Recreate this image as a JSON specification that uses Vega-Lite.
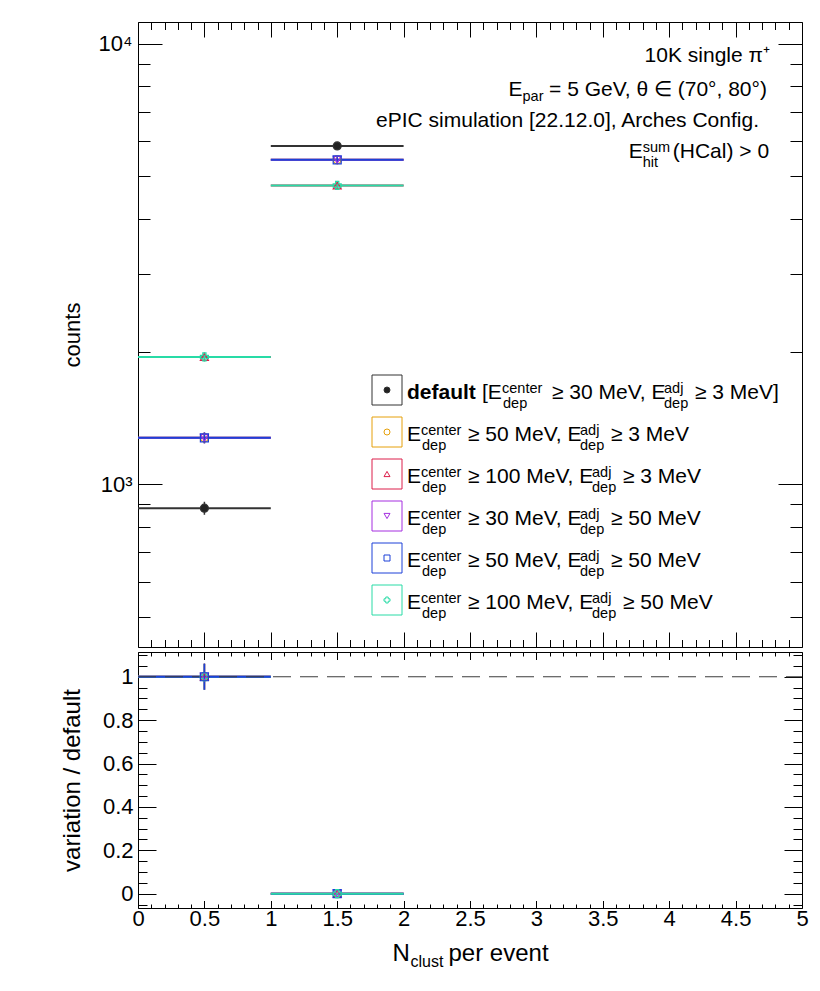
{
  "$schema": "https://vega.github.io/schema/vega-lite/v6.json",
  "background": "white",
  "padding": {"left": 59, "top": 21, "right": 5, "bottom": 5},
  "bounds": "flush",
  "spacing": 5,
  "config": {
    "font": "Liberation Sans",
    "view": {"stroke": "#000000", "strokeWidth": 1},
    "axis": {"domain": false, "grid": false, "tickColor": "#000000", "tickWidth": 1, "labelColor": "#000000", "titleColor": "#000000", "titleFontWeight": "normal", "labelFlush": false, "labelOverlap": false, "labelBound": false, "labelFontSize": 22}
  },
  "datasets": {
    "hist": [
      {"series": "default", "lo": 0, "hi": 1, "x": 0.5, "n": 882, "err": 30},
      {"series": "default", "lo": 1, "hi": 2, "x": 1.5, "n": 5862, "err": 77},
      {"series": "c50a3", "lo": 0, "hi": 1, "x": 0.5, "n": 1274, "err": 36},
      {"series": "c50a3", "lo": 1, "hi": 2, "x": 1.5, "n": 5451, "err": 74},
      {"series": "c100a3", "lo": 0, "hi": 1, "x": 0.5, "n": 1945, "err": 44},
      {"series": "c100a3", "lo": 1, "hi": 2, "x": 1.5, "n": 4766, "err": 69},
      {"series": "c30a50", "lo": 0, "hi": 1, "x": 0.5, "n": 1274, "err": 36},
      {"series": "c30a50", "lo": 1, "hi": 2, "x": 1.5, "n": 5451, "err": 74},
      {"series": "c50a50", "lo": 0, "hi": 1, "x": 0.5, "n": 1274, "err": 36},
      {"series": "c50a50", "lo": 1, "hi": 2, "x": 1.5, "n": 5451, "err": 74},
      {"series": "c100a50", "lo": 0, "hi": 1, "x": 0.5, "n": 1945, "err": 44},
      {"series": "c100a50", "lo": 1, "hi": 2, "x": 1.5, "n": 4766, "err": 69}
    ],
    "ratio": [
      {"series": "c50a3", "lo": 0, "hi": 1, "x": 0.5, "r": 1, "rerr": 0.06},
      {"series": "c100a3", "lo": 0, "hi": 1, "x": 0.5, "r": 1, "rerr": 0.06},
      {"series": "c30a50", "lo": 0, "hi": 1, "x": 0.5, "r": 1, "rerr": 0.06},
      {"series": "c100a50", "lo": 0, "hi": 1, "x": 0.5, "r": 1, "rerr": 0.06},
      {"series": "c50a50", "lo": 0, "hi": 1, "x": 0.5, "r": 1, "rerr": 0.06},
      {"series": "c50a3", "lo": 1, "hi": 2, "x": 1.5, "r": 0, "rerr": 0},
      {"series": "c100a3", "lo": 1, "hi": 2, "x": 1.5, "r": 0, "rerr": 0},
      {"series": "c30a50", "lo": 1, "hi": 2, "x": 1.5, "r": 0, "rerr": 0},
      {"series": "c50a50", "lo": 1, "hi": 2, "x": 1.5, "r": 0, "rerr": 0},
      {"series": "c100a50", "lo": 1, "hi": 2, "x": 1.5, "r": 0, "rerr": 0}
    ],
    "legend": [
      {"series": "default", "mid": "≥ 30 MeV, E", "tail": "≥ 3 MeV]"},
      {"series": "c50a3", "mid": "≥ 50 MeV, E", "tail": "≥ 3 MeV"},
      {"series": "c100a3", "mid": "≥ 100 MeV, E", "tail": "≥ 3 MeV"},
      {"series": "c30a50", "mid": "≥ 30 MeV, E", "tail": "≥ 50 MeV"},
      {"series": "c50a50", "mid": "≥ 50 MeV, E", "tail": "≥ 50 MeV"},
      {"series": "c100a50", "mid": "≥ 100 MeV, E", "tail": "≥ 50 MeV"}
    ]
  },
  "vconcat": [
    {
      "width": 664,
      "height": 625,
      "layer": [
        {
          "data": {"name": "hist"},
          "layer": [
            {
              "mark": {"type": "rule", "strokeWidth": 2},
              "encoding": {
                "x": {"field": "lo", "type": "quantitative", "scale": {"domain": [0, 5], "nice": false, "zero": false},
                  "axis": {"orient": "bottom", "values": [0,0.1,0.2,0.3,0.4,0.5,0.6,0.7,0.8,0.9,1,1.1,1.2,1.3,1.4,1.5,1.6,1.7,1.8,1.9,2,2.1,2.2,2.3,2.4,2.5,2.6,2.7,2.8,2.9,3,3.1,3.2,3.3,3.4,3.5,3.6,3.7,3.8,3.9,4,4.1,4.2,4.3,4.4,4.5,4.6,4.7,4.8,4.9,5],
                    "tickSize": {"condition": {"test": "abs(datum.value*2 - round(datum.value*2)) < 0.000001", "value": -15}, "value": -7.5},
                    "labels": false, "title": null}},
                "x2": {"field": "hi"},
                "y": {"field": "n", "type": "quantitative", "scale": {"type": "log", "domain": [426.8, 11203], "nice": false},
                  "axis": {"orient": "left", "values": [500,600,700,800,900,1000,2000,3000,4000,5000,6000,7000,8000,9000,10000],
                    "tickSize": {"condition": {"test": "datum.value == 1000 || datum.value == 10000", "value": -24}, "value": -12},
                    "labelExpr": "datum.value == 1000 ? '10³' : (datum.value == 10000 ? '10⁴' : '')",
                    "labelFontSize": 22, "labelPadding": 30,
                    "title": "counts", "titleFontSize": 22, "titlePadding": 14}},
                "color": {"field": "series", "type": "nominal", "scale": {"domain": ["default","c50a3","c100a3","c30a50","c50a50","c100a50"], "range": ["#333333","#e6a00a","#dc1e4b","#a52fe0","#1c40d8","#28dba6"]}, "legend": null}
              }
            },
            {
              "mark": {"type": "errorbar", "thickness": 1.5},
              "encoding": {
                "x": {"field": "x", "type": "quantitative", "axis": null},
                "y": {"field": "n", "type": "quantitative", "axis": null},
                "yError": {"field": "err"},
                "color": {"field": "series", "type": "nominal", "scale": {"domain": ["default","c50a3","c100a3","c30a50","c50a50","c100a50"], "range": ["#333333","#e6a00a","#dc1e4b","#a52fe0","#1c40d8","#28dba6"]}, "legend": null}
              }
            },
            {
              "mark": {"type": "point", "size": 64, "strokeWidth": 1.2, "opacity": 1, "filled": false},
              "encoding": {
                "x": {"field": "x", "type": "quantitative",
                  "axis": {"orient": "top", "values": [0,0.1,0.2,0.3,0.4,0.5,0.6,0.7,0.8,0.9,1,1.1,1.2,1.3,1.4,1.5,1.6,1.7,1.8,1.9,2,2.1,2.2,2.3,2.4,2.5,2.6,2.7,2.8,2.9,3,3.1,3.2,3.3,3.4,3.5,3.6,3.7,3.8,3.9,4,4.1,4.2,4.3,4.4,4.5,4.6,4.7,4.8,4.9,5],
                    "tickSize": {"condition": {"test": "abs(datum.value*2 - round(datum.value*2)) < 0.000001", "value": -15}, "value": -7.5},
                    "labels": false, "title": null}},
                "y": {"field": "n", "type": "quantitative",
                  "axis": {"orient": "right", "values": [500,600,700,800,900,1000,2000,3000,4000,5000,6000,7000,8000,9000,10000],
                    "tickSize": {"condition": {"test": "datum.value == 1000 || datum.value == 10000", "value": -24}, "value": -12},
                    "labels": false, "title": null}},
                "shape": {"field": "series", "type": "nominal", "scale": {"domain": ["default","c50a3","c100a3","c30a50","c50a50","c100a50"], "range": ["circle","circle","triangle-up","triangle-down","square","cross"]}, "legend": null},
                "stroke": {"field": "series", "type": "nominal", "scale": {"domain": ["default","c50a3","c100a3","c30a50","c50a50","c100a50"], "range": ["#333333","#e6a00a","#dc1e4b","#a52fe0","#1c40d8","#28dba6"]}, "legend": null},
                "fill": {"field": "series", "type": "nominal", "scale": {"domain": ["default","c50a3","c100a3","c30a50","c50a50","c100a50"], "range": ["#222222","transparent","transparent","transparent","transparent","transparent"]}, "legend": null}
              }
            }
          ],
          "resolve": {"axis": {"x": "independent", "y": "independent"}}
        },
        {
          "data": {"name": "legend"},
          "encoding": {
            "y": {"field": "series", "type": "nominal", "scale": {"type": "point", "domain": ["default","c50a3","c100a3","c30a50","c50a50","c100a50"], "range": [368, 578], "padding": 0}, "axis": null}
          },
          "layer": [
            {
              "mark": {"type": "square", "size": 900, "filled": false, "strokeWidth": 1, "opacity": 1},
              "encoding": {
                "x": {"datum": 1.875, "type": "quantitative", "axis": null},
                "color": {"field": "series", "type": "nominal", "scale": {"domain": ["default","c50a3","c100a3","c30a50","c50a50","c100a50"], "range": ["#333333","#e6a00a","#dc1e4b","#a52fe0","#1c40d8","#28dba6"]}, "legend": null}
              }
            },
            {
              "mark": {"type": "point", "size": 36, "strokeWidth": 1, "opacity": 1, "filled": false},
              "encoding": {
                "x": {"datum": 1.875, "type": "quantitative", "axis": null},
                "shape": {"field": "series", "type": "nominal", "scale": {"domain": ["default","c50a3","c100a3","c30a50","c50a50","c100a50"], "range": ["circle","circle","triangle-up","triangle-down","square","cross"]}, "legend": null},
                "stroke": {"field": "series", "type": "nominal", "scale": {"domain": ["default","c50a3","c100a3","c30a50","c50a50","c100a50"], "range": ["#333333","#e6a00a","#dc1e4b","#a52fe0","#1c40d8","#28dba6"]}, "legend": null},
                "fill": {"field": "series", "type": "nominal", "scale": {"domain": ["default","c50a3","c100a3","c30a50","c50a50","c100a50"], "range": ["#222222","transparent","transparent","transparent","transparent","transparent"]}, "legend": null}
              }
            },
            {"transform": [{"filter": "datum.series == 'default'"}], "mark": {"type": "text", "align": "left", "baseline": "alphabetic", "fontSize": 21, "fontWeight": "bold", "dx": 0, "dy": 8.5, "text": "default", "color": "#000000"}, "encoding": {"x": {"datum": 2.0256, "type": "quantitative", "axis": null}}},
            {"transform": [{"filter": "datum.series == 'default'"}], "mark": {"type": "text", "align": "left", "baseline": "alphabetic", "fontSize": 21, "dx": 75, "dy": 8.5, "text": "[E", "color": "#000000"}, "encoding": {"x": {"datum": 2.0256, "type": "quantitative", "axis": null}}},
            {"transform": [{"filter": "datum.series == 'default'"}], "mark": {"type": "text", "align": "left", "baseline": "alphabetic", "fontSize": 14.5, "dx": 95, "dy": 3, "text": "center", "color": "#000000"}, "encoding": {"x": {"datum": 2.0256, "type": "quantitative", "axis": null}}},
            {"transform": [{"filter": "datum.series == 'default'"}], "mark": {"type": "text", "align": "left", "baseline": "alphabetic", "fontSize": 14.5, "dx": 96, "dy": 18, "text": "dep", "color": "#000000"}, "encoding": {"x": {"datum": 2.0256, "type": "quantitative", "axis": null}}},
            {"transform": [{"filter": "datum.series == 'default'"}], "mark": {"type": "text", "align": "left", "baseline": "alphabetic", "fontSize": 21, "dx": 145, "dy": 8.5, "color": "#000000"}, "encoding": {"x": {"datum": 2.0256, "type": "quantitative", "axis": null}, "text": {"field": "mid"}}},
            {"transform": [{"filter": "datum.series == 'default'"}], "mark": {"type": "text", "align": "left", "baseline": "alphabetic", "fontSize": 14.5, "dx": 257, "dy": 3, "text": "adj", "color": "#000000"}, "encoding": {"x": {"datum": 2.0256, "type": "quantitative", "axis": null}}},
            {"transform": [{"filter": "datum.series == 'default'"}], "mark": {"type": "text", "align": "left", "baseline": "alphabetic", "fontSize": 14.5, "dx": 257, "dy": 18, "text": "dep", "color": "#000000"}, "encoding": {"x": {"datum": 2.0256, "type": "quantitative", "axis": null}}},
            {"transform": [{"filter": "datum.series == 'default'"}], "mark": {"type": "text", "align": "left", "baseline": "alphabetic", "fontSize": 21, "dx": 288, "dy": 8.5, "color": "#000000"}, "encoding": {"x": {"datum": 2.0256, "type": "quantitative", "axis": null}, "text": {"field": "tail"}}},
            {"transform": [{"filter": "datum.series != 'default'"}], "mark": {"type": "text", "align": "left", "baseline": "alphabetic", "fontSize": 21, "dx": 0, "dy": 8.5, "text": "E", "color": "#000000"}, "encoding": {"x": {"datum": 2.0256, "type": "quantitative", "axis": null}}},
            {"transform": [{"filter": "datum.series != 'default'"}], "mark": {"type": "text", "align": "left", "baseline": "alphabetic", "fontSize": 14.5, "dx": 14, "dy": 3, "text": "center", "color": "#000000"}, "encoding": {"x": {"datum": 2.0256, "type": "quantitative", "axis": null}}},
            {"transform": [{"filter": "datum.series != 'default'"}], "mark": {"type": "text", "align": "left", "baseline": "alphabetic", "fontSize": 14.5, "dx": 15, "dy": 18, "text": "dep", "color": "#000000"}, "encoding": {"x": {"datum": 2.0256, "type": "quantitative", "axis": null}}},
            {"transform": [{"filter": "datum.series != 'default'"}], "mark": {"type": "text", "align": "left", "baseline": "alphabetic", "fontSize": 21, "dx": 61, "dy": 8.5, "color": "#000000"}, "encoding": {"x": {"datum": 2.0256, "type": "quantitative", "axis": null}, "text": {"field": "mid"}}},
            {"transform": [{"filter": "datum.series != 'default' && indexof(datum.mid, '100') < 0"}], "mark": {"type": "text", "align": "left", "baseline": "alphabetic", "fontSize": 14.5, "dx": 173, "dy": 3, "text": "adj", "color": "#000000"}, "encoding": {"x": {"datum": 2.0256, "type": "quantitative", "axis": null}}},
            {"transform": [{"filter": "datum.series != 'default' && indexof(datum.mid, '100') < 0"}], "mark": {"type": "text", "align": "left", "baseline": "alphabetic", "fontSize": 14.5, "dx": 173, "dy": 18, "text": "dep", "color": "#000000"}, "encoding": {"x": {"datum": 2.0256, "type": "quantitative", "axis": null}}},
            {"transform": [{"filter": "datum.series != 'default' && indexof(datum.mid, '100') < 0"}], "mark": {"type": "text", "align": "left", "baseline": "alphabetic", "fontSize": 21, "dx": 204, "dy": 8.5, "color": "#000000"}, "encoding": {"x": {"datum": 2.0256, "type": "quantitative", "axis": null}, "text": {"field": "tail"}}},
            {"transform": [{"filter": "indexof(datum.mid, '100') >= 0"}], "mark": {"type": "text", "align": "left", "baseline": "alphabetic", "fontSize": 14.5, "dx": 185, "dy": 3, "text": "adj", "color": "#000000"}, "encoding": {"x": {"datum": 2.0256, "type": "quantitative", "axis": null}}},
            {"transform": [{"filter": "indexof(datum.mid, '100') >= 0"}], "mark": {"type": "text", "align": "left", "baseline": "alphabetic", "fontSize": 14.5, "dx": 185, "dy": 18, "text": "dep", "color": "#000000"}, "encoding": {"x": {"datum": 2.0256, "type": "quantitative", "axis": null}}},
            {"transform": [{"filter": "indexof(datum.mid, '100') >= 0"}], "mark": {"type": "text", "align": "left", "baseline": "alphabetic", "fontSize": 21, "dx": 216, "dy": 8.5, "color": "#000000"}, "encoding": {"x": {"datum": 2.0256, "type": "quantitative", "axis": null}, "text": {"field": "tail"}}}
          ]
        },
        {
          "data": {"values": [{}]},
          "layer": [
            {"mark": {"type": "text", "align": "right", "baseline": "alphabetic", "fontSize": 21, "text": "10K single π⁺", "color": "#000000"},
             "encoding": {"x": {"datum": 4.759, "type": "quantitative", "axis": null}, "y": {"datum": 9078, "type": "quantitative", "scale": {"type": "log", "domain": [426.8, 11203], "nice": false}, "axis": null}}},
            {"mark": {"type": "text", "align": "left", "baseline": "alphabetic", "fontSize": 21, "text": "E", "color": "#000000"},
             "encoding": {"x": {"datum": 2.79, "type": "quantitative", "axis": null}, "y": {"datum": 7616, "type": "quantitative", "scale": {"type": "log", "domain": [426.8, 11203], "nice": false}, "axis": null}}},
            {"mark": {"type": "text", "align": "left", "baseline": "alphabetic", "fontSize": 14.5, "dx": 14, "dy": 5, "text": "par", "color": "#000000"},
             "encoding": {"x": {"datum": 2.79, "type": "quantitative", "axis": null}, "y": {"datum": 7616, "type": "quantitative", "scale": {"type": "log", "domain": [426.8, 11203], "nice": false}, "axis": null}}},
            {"mark": {"type": "text", "align": "right", "baseline": "alphabetic", "fontSize": 21, "text": "= 5 GeV, θ ∈ (70°, 80°)", "color": "#000000"},
             "encoding": {"x": {"datum": 4.736, "type": "quantitative", "axis": null}, "y": {"datum": 7616, "type": "quantitative", "scale": {"type": "log", "domain": [426.8, 11203], "nice": false}, "axis": null}}},
            {"mark": {"type": "text", "align": "right", "baseline": "alphabetic", "fontSize": 21, "text": "ePIC simulation [22.12.0], Arches Config.", "color": "#000000"},
             "encoding": {"x": {"datum": 4.676, "type": "quantitative", "axis": null}, "y": {"datum": 6477, "type": "quantitative", "scale": {"type": "log", "domain": [426.8, 11203], "nice": false}, "axis": null}}},
            {"mark": {"type": "text", "align": "left", "baseline": "alphabetic", "fontSize": 21, "text": "E", "color": "#000000"},
             "encoding": {"x": {"datum": 3.695, "type": "quantitative", "axis": null}, "y": {"datum": 5506, "type": "quantitative", "scale": {"type": "log", "domain": [426.8, 11203], "nice": false}, "axis": null}}},
            {"mark": {"type": "text", "align": "left", "baseline": "alphabetic", "fontSize": 14.5, "dx": 14, "dy": -6, "text": "sum", "color": "#000000"},
             "encoding": {"x": {"datum": 3.695, "type": "quantitative", "axis": null}, "y": {"datum": 5506, "type": "quantitative", "scale": {"type": "log", "domain": [426.8, 11203], "nice": false}, "axis": null}}},
            {"mark": {"type": "text", "align": "left", "baseline": "alphabetic", "fontSize": 14.5, "dx": 14, "dy": 9, "text": "hit", "color": "#000000"},
             "encoding": {"x": {"datum": 3.695, "type": "quantitative", "axis": null}, "y": {"datum": 5506, "type": "quantitative", "scale": {"type": "log", "domain": [426.8, 11203], "nice": false}, "axis": null}}},
            {"mark": {"type": "text", "align": "right", "baseline": "alphabetic", "fontSize": 21, "text": "(HCal) > 0", "color": "#000000"},
             "encoding": {"x": {"datum": 4.752, "type": "quantitative", "axis": null}, "y": {"datum": 5506, "type": "quantitative", "scale": {"type": "log", "domain": [426.8, 11203], "nice": false}, "axis": null}}}
          ]
        }
      ],
      "resolve": {"scale": {"y": "independent"}, "axis": {"x": "independent", "y": "independent"}}
    },
    {
      "width": 664,
      "height": 256,
      "data": {"name": "ratio"},
      "layer": [
        {
          "mark": {"type": "rule", "strokeWidth": 2},
          "encoding": {
            "x": {"field": "lo", "type": "quantitative", "scale": {"domain": [0, 5], "nice": false, "zero": false},
              "axis": {"orient": "bottom", "values": [0,0.1,0.2,0.3,0.4,0.5,0.6,0.7,0.8,0.9,1,1.1,1.2,1.3,1.4,1.5,1.6,1.7,1.8,1.9,2,2.1,2.2,2.3,2.4,2.5,2.6,2.7,2.8,2.9,3,3.1,3.2,3.3,3.4,3.5,3.6,3.7,3.8,3.9,4,4.1,4.2,4.3,4.4,4.5,4.6,4.7,4.8,4.9,5],
                "tickSize": {"condition": {"test": "abs(datum.value*2 - round(datum.value*2)) < 0.000001", "value": -7.5}, "value": -4},
                "labelExpr": "abs(datum.value*2 - round(datum.value*2)) < 0.000001 ? format(datum.value, '~g') : ''",
                "labelFontSize": 22, "labelPadding": 8,
                "title": "N", "titleFontSize": 24, "titleX": 254, "titleY": 52, "titleAlign": "left", "titleBaseline": "alphabetic", "titleAngle": 0}},
            "x2": {"field": "hi"},
            "y": {"field": "r", "type": "quantitative", "scale": {"domain": [-0.066, 1.114], "nice": false, "zero": false},
              "axis": {"orient": "left", "values": [-0.05,0,0.05,0.1,0.15,0.2,0.25,0.3,0.35,0.4,0.45,0.5,0.55,0.6,0.65,0.7,0.75,0.8,0.85,0.9,0.95,1,1.05,1.1],
                "tickSize": {"condition": {"test": "abs(datum.value*5 - round(datum.value*5)) < 0.000001", "value": -18}, "value": -9},
                "labelExpr": "abs(datum.value*5 - round(datum.value*5)) < 0.000001 ? format(datum.value, '~g') : ''",
                "labelFontSize": 22, "labelPadding": 23,
                "title": "variation / default", "titleFontSize": 24, "titlePadding": 18}},
            "color": {"field": "series", "type": "nominal", "scale": {"domain": ["default","c50a3","c100a3","c30a50","c50a50","c100a50"], "range": ["#333333","#e6a00a","#dc1e4b","#a52fe0","#1c40d8","#28dba6"]}, "legend": null}
          }
        },
        {
          "data": {"values": [{}]},
          "mark": {"type": "rule", "strokeDash": [18, 9], "color": "#3c3c3c", "strokeWidth": 1.2},
          "encoding": {
            "x": {"datum": 0, "type": "quantitative", "axis": {"orient": "bottom", "ticks": false, "labels": false, "title": "per event", "titleFontSize": 24, "titleX": 310, "titleY": 52, "titleAlign": "left", "titleBaseline": "alphabetic", "titleAngle": 0}},
            "x2": {"datum": 5},
            "y": {"datum": 1, "type": "quantitative", "axis": null}
          }
        },
        {
          "mark": {"type": "errorbar", "thickness": 1.5},
          "encoding": {
            "x": {"field": "x", "type": "quantitative", "axis": {"orient": "bottom", "ticks": false, "labels": false, "title": "clust", "titleFontSize": 16, "titleX": 272, "titleY": 58, "titleAlign": "left", "titleBaseline": "alphabetic", "titleAngle": 0}},
            "y": {"field": "r", "type": "quantitative", "axis": null},
            "yError": {"field": "rerr"},
            "color": {"field": "series", "type": "nominal", "scale": {"domain": ["default","c50a3","c100a3","c30a50","c50a50","c100a50"], "range": ["#333333","#e6a00a","#dc1e4b","#a52fe0","#1c40d8","#28dba6"]}, "legend": null}
          }
        },
        {
          "mark": {"type": "point", "size": 64, "strokeWidth": 1.2, "opacity": 1, "filled": false},
          "encoding": {
            "x": {"field": "x", "type": "quantitative",
              "axis": {"orient": "top", "values": [0,0.1,0.2,0.3,0.4,0.5,0.6,0.7,0.8,0.9,1,1.1,1.2,1.3,1.4,1.5,1.6,1.7,1.8,1.9,2,2.1,2.2,2.3,2.4,2.5,2.6,2.7,2.8,2.9,3,3.1,3.2,3.3,3.4,3.5,3.6,3.7,3.8,3.9,4,4.1,4.2,4.3,4.4,4.5,4.6,4.7,4.8,4.9,5],
                "tickSize": {"condition": {"test": "abs(datum.value*2 - round(datum.value*2)) < 0.000001", "value": -7.5}, "value": -4},
                "labels": false, "title": null}},
            "y": {"field": "r", "type": "quantitative",
              "axis": {"orient": "right", "values": [-0.05,0,0.05,0.1,0.15,0.2,0.25,0.3,0.35,0.4,0.45,0.5,0.55,0.6,0.65,0.7,0.75,0.8,0.85,0.9,0.95,1,1.05,1.1],
                "tickSize": {"condition": {"test": "abs(datum.value*5 - round(datum.value*5)) < 0.000001", "value": -18}, "value": -9},
                "labels": false, "title": null}},
            "shape": {"field": "series", "type": "nominal", "scale": {"domain": ["default","c50a3","c100a3","c30a50","c50a50","c100a50"], "range": ["circle","circle","triangle-up","triangle-down","square","cross"]}, "legend": null},
            "stroke": {"field": "series", "type": "nominal", "scale": {"domain": ["default","c50a3","c100a3","c30a50","c50a50","c100a50"], "range": ["#333333","#e6a00a","#dc1e4b","#a52fe0","#1c40d8","#28dba6"]}, "legend": null},
            "fill": {"field": "series", "type": "nominal", "scale": {"domain": ["default","c50a3","c100a3","c30a50","c50a50","c100a50"], "range": ["#222222","transparent","transparent","transparent","transparent","transparent"]}, "legend": null}
          }
        }
      ],
      "resolve": {"axis": {"x": "independent", "y": "independent"}}
    }
  ]
}
